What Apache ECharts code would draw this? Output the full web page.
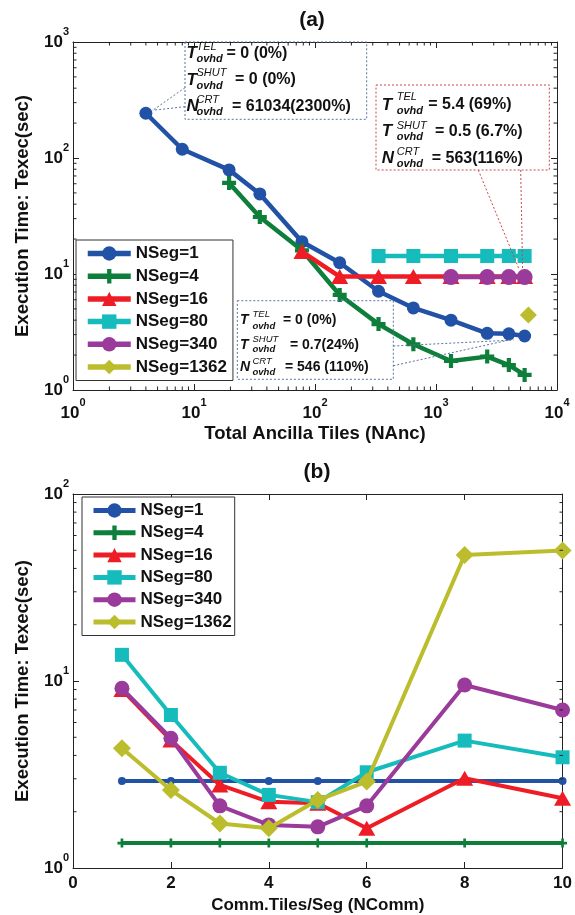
<!DOCTYPE html>
<html><head><meta charset="utf-8">
<script src="https://cdn.jsdelivr.net/npm/echarts@6/dist/echarts.min.js"></script>
<style>html,body{margin:0;padding:0;background:#fff}#c{width:575px;height:915px}</style>
</head><body><div id="c"></div>
<script>
// ---------------- data ----------------
const seriesNames = ['NSeg=1', 'NSeg=4', 'NSeg=16', 'NSeg=80', 'NSeg=340', 'NSeg=1362'];

// (a) Total Ancilla Tiles (NAnc) vs Execution time
const ancX1 = [4, 8, 19.5, 35, 78, 160, 335, 650, 1330, 2650, 4000, 5400];
const texA1 = [243, 119, 79, 49, 19, 12.5, 7.1, 5.1, 4.0, 3.08, 3.05, 2.92];
const ancX4 = [19.5, 35, 78, 160, 335, 650, 1330, 2650, 4000, 5400];
const texA4 = [61, 31, 16, 6.6, 3.7, 2.48, 1.78, 1.94, 1.64, 1.35];
const ancX16 = [78, 160, 335, 650, 1330, 2650, 4000, 5400];
const texA16 = [15.6, 9.5, 9.5, 9.5, 9.5, 9.5, 9.5, 9.5];
const ancX80 = [335, 650, 1330, 2650, 4000, 5400];
const texA80 = [14.3, 14.3, 14.3, 14.3, 14.3, 14.3];
const ancX340 = [1330, 2650, 4000, 5400];
const texA340 = [9.4, 9.4, 9.4, 9.4];
const ancX1362 = [5800];
const texA1362 = [4.43];

// (b) Comm.Tiles/Seg (NComm) vs Execution time
const nComm = [1, 2, 3, 4, 5, 6, 8, 10];
const texB1 = [2.92, 2.92, 2.92, 2.92, 2.92, 2.92, 2.92, 2.92];
const texB4 = [1.36, 1.36, 1.36, 1.36, 1.36, 1.36, 1.36, 1.36];
const texB16 = [9.0, 4.83, 2.78, 2.26, 2.22, 1.63, 3.02, 2.36];
const texB80 = [13.8, 6.58, 3.23, 2.46, 2.25, 3.25, 4.8, 3.91];
const texB340 = [9.14, 4.94, 2.15, 1.70, 1.66, 2.15, 9.52, 7.0];
const texB1362 = [4.37, 2.61, 1.73, 1.63, 2.31, 2.9, 47.2, 49.8];

// annotation texts
const annoA1 = [['T', 'TEL', 'ovhd', '= 0 (0%)'], ['T', 'SHUT', 'ovhd', '= 0 (0%)'], ['N', 'CRT', 'ovhd', '= 61034(2300%)']];
const annoA2 = [['T', 'TEL', 'ovhd', '= 5.4 (69%)'], ['T', 'SHUT', 'ovhd', '= 0.5 (6.7%)'], ['N', 'CRT', 'ovhd', '= 563(116%)']];
const annoA3 = [['T', 'TEL', 'ovhd', '= 0 (0%)'], ['T', 'SHUT', 'ovhd', '= 0.7(24%)'], ['N', 'CRT', 'ovhd', '= 546 (110%)']];

// ---------------- style ----------------
const FONT = '"Liberation Sans", Arial, Helvetica, sans-serif';
const INK = '#111';
const colors = ['#2152a6', '#0e7f3b', '#ee1c25', '#16bcbc', '#9a3a9a', '#bcbd2c'];
const PLUS = 'path://M35,0H65V35H100V65H65V100H35V65H0V35H35Z';
const symbols = ['circle', PLUS, 'triangle', 'rect', 'circle', 'diamond'];
const sizesA = [13, 14, [17, 15], 14, 16, 17];
const sizesB = [8, 9, [17, 15], 14, 15, 18];
const GA = {left: 73, top: 42, width: 484, height: 348};
const GB = {left: 73, top: 494, width: 490, height: 374};

const zip = (xs, ys) => xs.map((x, i) => [x, ys[i]]);
const dataA = [zip(ancX1, texA1), zip(ancX4, texA4), zip(ancX16, texA16), zip(ancX80, texA80), zip(ancX340, texA340), zip(ancX1362, texA1362)];
const dataB = [texB1, texB4, texB16, texB80, texB340, texB1362].map(ys => zip(nComm, ys));

const powRich = {
  b: {fontSize: 17, fontWeight: 'bold', fontFamily: FONT, color: INK, lineHeight: 32},
  s: {fontSize: 11, fontWeight: 'bold', fontFamily: FONT, color: INK, verticalAlign: 'top', lineHeight: 12}
};
const powFmt = v => '{b|10}{s|' + Math.round(Math.log10(v)) + '}';
const lineAx = {show: true, onZero: false, lineStyle: {color: '#222', width: 1}};
const tickAx = {show: true, inside: true, length: 6, lineStyle: {color: '#222', width: 1}};
const nameStyle = {fontSize: 18.5, fontWeight: 'bold', fontFamily: FONT, color: INK};

function logAxis(grid, min, max, pos, labels, margin, name, gap) {
  return {
    type: 'log', logBase: 10, gridIndex: grid, min, max, position: pos,
    axisLine: lineAx, axisTick: tickAx, splitLine: {show: false}, minorTick: {show: false},
    axisLabel: labels ? {show: true, formatter: powFmt, rich: powRich, margin} : {show: false},
    name: name || '', nameLocation: 'middle', nameGap: gap || 0, nameTextStyle: nameStyle
  };
}

const xAxis = [
  logAxis(0, 1, 10000, 'bottom', true, 7, 'Total Ancilla Tiles (NAnc)', 34),
  logAxis(0, 1, 10000, 'top', false),
  {type: 'value', gridIndex: 1, min: 0, max: 10, interval: 2, position: 'bottom',
   axisLine: lineAx, axisTick: tickAx, splitLine: {show: false},
   axisLabel: {fontSize: 17, fontWeight: 'bold', fontFamily: FONT, color: INK, margin: 7},
   name: 'Comm.Tiles/Seg (NComm)', nameLocation: 'middle', nameGap: 28.5,
   nameTextStyle: Object.assign({}, nameStyle, {fontSize: 17})},
  {type: 'value', gridIndex: 1, min: 0, max: 10, interval: 2, position: 'top',
   axisLine: lineAx, axisTick: tickAx, splitLine: {show: false}, axisLabel: {show: false}}
];
const yAxis = [
  logAxis(0, 1, 1000, 'left', true, 4, 'Execution Time: Texec(sec)', 40.5),
  logAxis(0, 1, 1000, 'right', false),
  logAxis(1, 1, 100, 'left', true, 4, 'Execution Time: Texec(sec)', 40.5),
  logAxis(1, 1, 100, 'right', false)
];

const series = [];
seriesNames.forEach((n, i) => {
  series.push({
    type: 'line', name: n, xAxisIndex: 0, yAxisIndex: 0, data: dataA[i],
    symbol: symbols[i], symbolSize: sizesA[i], showAllSymbol: true,
    lineStyle: {width: 4.5, color: colors[i]}, itemStyle: {color: colors[i]},
    color: colors[i], animation: false, clip: false, z: 2 + i
  });
});
seriesNames.forEach((n, i) => {
  series.push({
    type: 'line', name: n, xAxisIndex: 2, yAxisIndex: 2, data: dataB[i],
    symbol: symbols[i], symbolSize: sizesB[i], showAllSymbol: true,
    lineStyle: {width: 4, color: colors[i]}, itemStyle: {color: colors[i]},
    color: colors[i], animation: false, clip: false, z: 2 + i
  });
});

const legendText = {fontSize: 17, fontWeight: 'bold', fontFamily: FONT, color: INK};
const option = {
  backgroundColor: '#fff',
  animation: false,
  grid: [GA, GB],
  xAxis, yAxis, series,
  legend: [
    {orient: 'vertical', left: 76, top: 240, data: seriesNames, itemWidth: 43, itemHeight: 18, itemGap: 5.7,
     padding: [5, 6, 5, 9], borderColor: '#333', borderWidth: 1, backgroundColor: '#fff', textStyle: legendText,
     itemTextGap: 5, lineStyle: {width: 5.5}, z: 20},
    {orient: 'vertical', left: 82, top: 497, data: seriesNames, itemWidth: 42, itemHeight: 18, itemGap: 5.3,
     padding: [5, 3, 5, 9], borderColor: '#333', borderWidth: 1, backgroundColor: '#fff', textStyle: legendText,
     itemTextGap: 6, lineStyle: {width: 5}, z: 20}
  ]
};

const chart = echarts.init(document.getElementById('c'), null, {renderer: 'canvas'});
chart.setOption(option);

// ---------------- decorations ----------------
const g = [];
function seg(x1, y1, x2, y2, stroke, dash, w) {
  g.push({type: 'line', silent: true, z: 50, shape: {x1, y1, x2, y2},
    style: {stroke: stroke || '#222', lineWidth: w || 1, lineDash: dash || null}});
}
function txt(x, y, text, size, weight, style, align) {
  g.push({type: 'text', silent: true, z: 60, x, y,
    style: {text, fontSize: size, fontWeight: weight || 'bold', fontStyle: style || 'normal', fontFamily: FONT,
      fill: INK, textAlign: align || 'left', textVerticalAlign: 'middle'}});
}
// minor log ticks
function minorTicks(xAxisIdx, yAxisIdx, G, xDec, yDec) {
  const L = G.left, R = G.left + G.width, T = G.top, B = G.top + G.height;
  for (const e of xDec) for (let m = 2; m <= 9; m++) {
    const px = chart.convertToPixel({xAxisIndex: xAxisIdx}, m * Math.pow(10, e));
    seg(px, B, px, B - 3.5); seg(px, T, px, T + 3.5);
  }
  for (const e of yDec) for (let m = 2; m <= 9; m++) {
    const py = chart.convertToPixel({yAxisIndex: yAxisIdx}, m * Math.pow(10, e));
    seg(L, py, L + 3.5, py); seg(R, py, R - 3.5, py);
  }
}
minorTicks(0, 0, GA, [0, 1, 2, 3], [0, 1, 2]);
minorTicks(2, 2, GB, [], [0, 1]);

// titles
txt(312, 20, '(a)', 21, 'bold', 'normal', 'center');
txt(317, 472, '(b)', 21, 'bold', 'normal', 'center');

// annotation boxes
const BLUEDOT = '#5575a5', REDDOT = '#cc4848';
function box(x, y, w, h, c) {
  g.push({type: 'rect', silent: true, z: 40, shape: {x, y, width: w, height: h},
    style: {fill: 'rgba(255,255,255,0)', stroke: c, lineWidth: 1, lineDash: [2, 2]}});
}
function term(row, x, y, supDy, subDy, mainSize, smallSize, supX, restX, restSize) {
  txt(x, y, row[0], mainSize, 'bold', 'italic');
  txt(supX, y + supDy, row[1], smallSize, 'normal', 'italic');
  txt(supX, y + subDy, row[2], smallSize, 'bold', 'italic');
  txt(restX, y, row[3], restSize, 'bold');
}
const pA1first = chart.convertToPixel({seriesIndex: 0}, dataA[0][0]);
const pA1last = chart.convertToPixel({seriesIndex: 0}, dataA[0][dataA[0].length - 1]);
const pA340last = chart.convertToPixel({seriesIndex: 4}, dataA[4][dataA[4].length - 1]);

// box 1
box(185, 42, 181.7, 77.3, BLUEDOT);
seg(185, 87.7, pA1first[0] + 7, pA1first[1] - 3, BLUEDOT, [2, 2]);
seg(185, 106.7, pA1first[0] + 7, pA1first[1] - 3, BLUEDOT, [2, 2]);
term(annoA1[0], 186.5, 53.3, -6.8, 5.2, 17, 11, 196.5, 226.5, 16);
term(annoA1[1], 186.5, 80, -7, 5.5, 17, 11, 196.5, 235, 16);
term(annoA1[2], 186.5, 106.7, -7.2, 5.3, 17, 11, 196.5, 232, 16);

// box 2
box(376, 85, 173.3, 85, REDDOT);
seg(478.3, 170, pA340last[0] - 6, pA340last[1] - 9, REDDOT, [2, 2]);
seg(520.7, 170, pA340last[0] - 2, pA340last[1] - 6, REDDOT, [2, 2]);
term(annoA2[0], 381.7, 105, -8.5, 5.5, 17, 11, 396.7, 428.3, 16);
term(annoA2[1], 381.7, 131.7, -6.2, 5.3, 17, 11, 396.7, 435, 16);
term(annoA2[2], 381.7, 158.3, -6.8, 5.2, 17, 11, 396.7, 431.7, 16);

// box 3
box(237.3, 300.7, 156, 78.6, BLUEDOT);
seg(393.3, 346, pA1last[0] - 11, pA1last[1] + 4, BLUEDOT, [2, 2]);
seg(393.3, 365.7, pA1last[0] - 11, pA1last[1] + 3, BLUEDOT, [2, 2]);
term(annoA3[0], 240, 320, -5.5, 6.5, 14, 9.5, 252.5, 283, 14);
term(annoA3[1], 240, 345, -6, 4, 14, 9.5, 252.5, 290, 14);
term(annoA3[2], 240, 366.7, -5.3, 6, 14, 9.5, 252.5, 285, 14);

chart.setOption({graphic: {elements: g}});
</script>
</body></html>
